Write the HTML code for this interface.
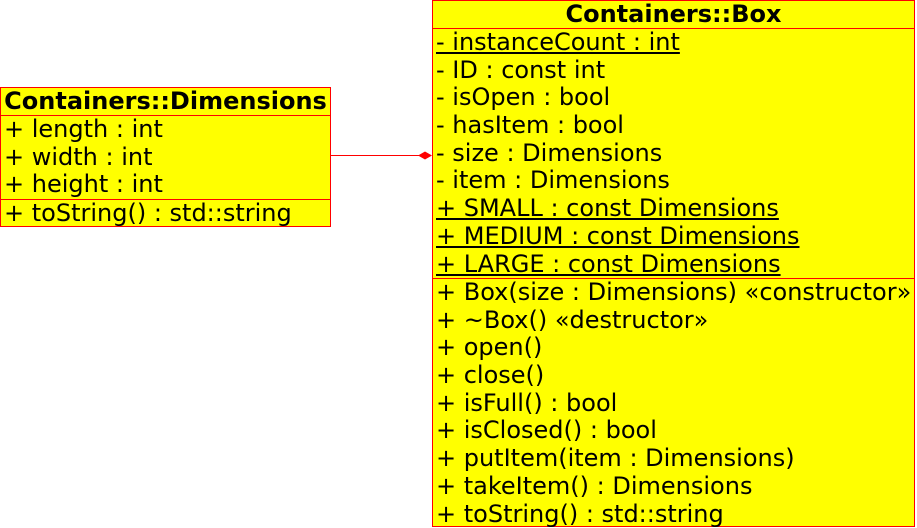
<!DOCTYPE html>
<html><head><meta charset="utf-8"><style>
body{margin:0;width:917px;height:527px;background:#fff;position:relative;overflow:hidden;font-family:"DejaVu Sans","Liberation Sans",sans-serif;font-size:24px;color:#000}
.c{position:absolute;background:#ff0;border:1px solid #f00;box-sizing:border-box}
.h{font-weight:bold;text-align:center;height:27px;line-height:27px;border-bottom:1px solid #f00;white-space:nowrap}
.s{border-bottom:1px solid #f00;padding-left:3px}
.r{height:27.7px;line-height:27.7px;white-space:nowrap}
.u{text-decoration:underline}
</style></head><body>
<div class="c" style="left:0;top:87px;width:331px;height:140px">
<div class="h">Containers::Dimensions</div>
<div class="s" style="height:83px"><div class="r">+ length : int</div><div class="r">+ width : int</div><div class="r">+ height : int</div></div>
<div style="padding-left:3px"><div class="r">+ toString() : std::string</div></div>
</div>
<svg style="position:absolute;left:0;top:0" width="917" height="527"><line x1="330" y1="155.5" x2="420" y2="155.5" stroke="#f00" stroke-width="1"/><polygon points="418,155.5 425,151.5 432,155.5 425,159.5" fill="#f00"/></svg>
<div class="c" style="left:432px;top:0;width:483px;height:527px">
<div class="h">Containers::Box</div>
<div class="s" style="height:249px">
<div class="r u">- instanceCount : int</div>
<div class="r">- ID : const int</div>
<div class="r">- isOpen : bool</div>
<div class="r">- hasItem : bool</div>
<div class="r">- size : Dimensions</div>
<div class="r">- item : Dimensions</div>
<div class="r u">+ SMALL : const Dimensions</div>
<div class="r u">+ MEDIUM : const Dimensions</div>
<div class="r u">+ LARGE : const Dimensions</div>
</div>
<div style="padding-left:3px">
<div class="r">+ Box(size : Dimensions) «constructor»</div>
<div class="r">+ ~Box() «destructor»</div>
<div class="r">+ open()</div>
<div class="r">+ close()</div>
<div class="r">+ isFull() : bool</div>
<div class="r">+ isClosed() : bool</div>
<div class="r">+ putItem(item : Dimensions)</div>
<div class="r">+ takeItem() : Dimensions</div>
<div class="r">+ toString() : std::string</div>
</div>
</div>
</body></html>
